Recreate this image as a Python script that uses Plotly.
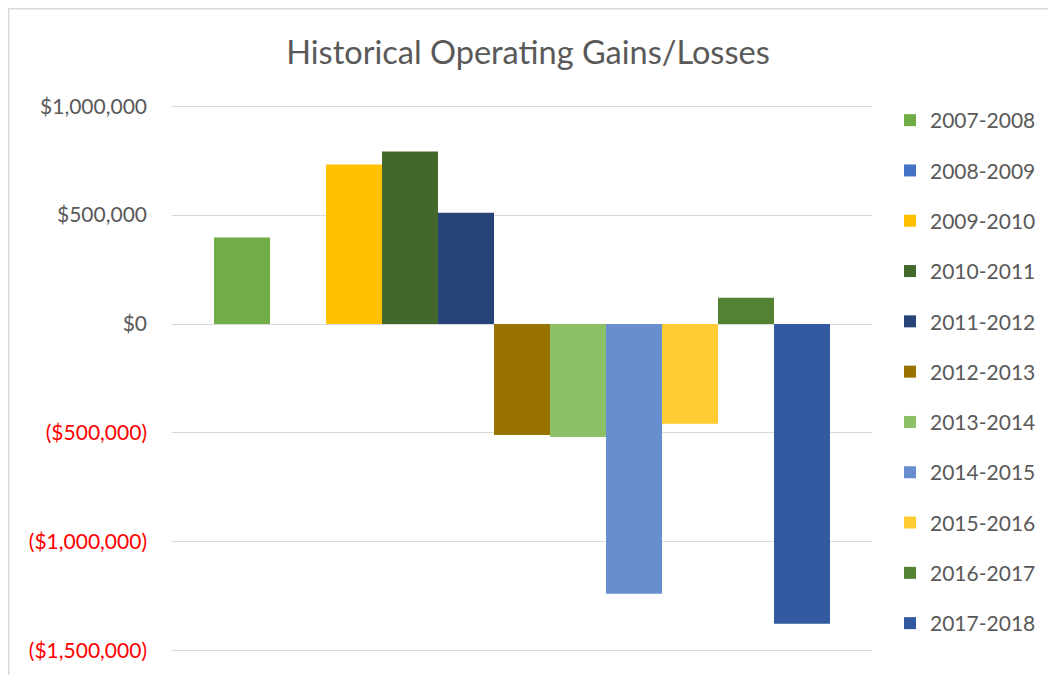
import plotly.graph_objects as go

# fiscal years and operating gain/loss (USD)
periods = ["2007-2008", "2008-2009", "2009-2010", "2010-2011", "2011-2012", "2012-2013",
           "2013-2014", "2014-2015", "2015-2016", "2016-2017", "2017-2018"]
gains = [397000, 0, 732000, 792000, 511000, -509000,
         -518000, -1238000, -458000, 121000, -1376000]
colors = ["#70AD47", "#4472C4", "#FFC000", "#43682B", "#264478", "#997300",
          "#8CC168", "#698ED0", "#FFCD33", "#548235", "#335AA1"]

tick_vals = [1000000, 500000, 0, -500000, -1000000, -1500000]
tick_text = ["$1,000,000", "$500,000", "$0",
             "<span style='color:#FF0000'>($500,000)</span>",
             "<span style='color:#FF0000'>($1,000,000)</span>",
             "<span style='color:#FF0000'>($1,500,000)</span>"]

FONT = "Lato"
GREY = "#595959"
W, H = 1056, 675
L, R, T, B = 164, 192, 96, 30
PW, PH = W - L - R, H - T - B

fig = go.Figure()
for p, v, c in zip(periods, gains, colors):
    fig.add_trace(go.Bar(x=[""], y=[v], name=p, marker_color=c, marker_line_width=0,
                         legendgroup=p))

fig.update_layout(
    width=W, height=H,
    margin=dict(l=L, r=R, t=T, b=B),
    paper_bgcolor="white", plot_bgcolor="white",
    barmode="group", bargap=0.12, bargroupgap=0,
    font=dict(family=FONT, color=GREY),
    title=dict(text="Historical Operating Gains/Losses", x=0.5 - 8 / W, xanchor="center",
               y=1 - 45 / H, yanchor="middle",
               font=dict(family=FONT, size=32.5, color=GREY)),
    legend=dict(x=(882 - L) / PW, xanchor="left",
                y=(PH + T - 92) / PH, yanchor="top",
                font=dict(family=FONT, size=21, color=GREY),
                tracegroupgap=20, maxheight=640, bgcolor="rgba(0,0,0,0)"),
    showlegend=True,
)
fig.update_xaxes(showticklabels=False, showgrid=False, zeroline=False, showline=False)
fig.update_yaxes(range=[-1510000, 1010000], tickvals=tick_vals, ticktext=tick_text,
                 showgrid=True, gridcolor="#D9D9D9", gridwidth=1.3,
                 zeroline=True, zerolinecolor="#D9D9D9", zerolinewidth=1.3,
                 showline=False, ticklabelstandoff=24,
                 tickfont=dict(family=FONT, size=21, color=GREY))

# chart-area border (top and left edges visible)
fig.add_shape(type="rect", xref="paper", yref="paper",
              x0=(0.75 - L) / PW, x1=(W + 5 - L) / PW,
              y0=-(B + 5) / PH, y1=(PH + T - 0.75) / PH,
              line=dict(color="#D9D9D9", width=1.5), layer="below")

fig.write_html("out.html")
